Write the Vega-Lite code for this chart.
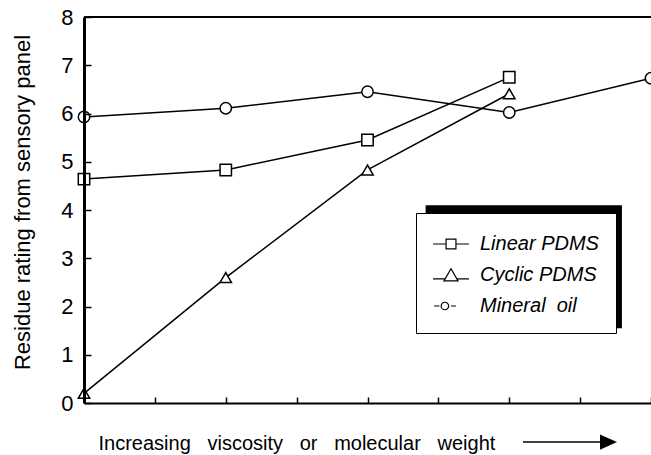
{
  "$schema": "https://vega.github.io/schema/vega-lite/v6.json",
  "width": 567,
  "height": 386,
  "autosize": {"type": "none"},
  "padding": {"left": 84, "top": 17, "right": 0, "bottom": 52},
  "background": "white",
  "config": {"view": {"stroke": null}, "font": "Liberation Sans"},
  "data": {
    "values": [
      {"series": "Linear PDMS", "x": 0, "y": 4.64},
      {"series": "Linear PDMS", "x": 1, "y": 4.83},
      {"series": "Linear PDMS", "x": 2, "y": 5.45},
      {"series": "Linear PDMS", "x": 3, "y": 6.75},
      {"series": "Cyclic PDMS", "x": 0, "y": 0.2},
      {"series": "Cyclic PDMS", "x": 1, "y": 2.6},
      {"series": "Cyclic PDMS", "x": 2, "y": 4.83},
      {"series": "Cyclic PDMS", "x": 3, "y": 6.41},
      {"series": "Mineral oil", "x": 0, "y": 5.93},
      {"series": "Mineral oil", "x": 1, "y": 6.11},
      {"series": "Mineral oil", "x": 2, "y": 6.45},
      {"series": "Mineral oil", "x": 3, "y": 6.02},
      {"series": "Mineral oil", "x": 4, "y": 6.73}
    ]
  },
  "resolve": {"scale": {"shape": "independent"}, "legend": {"shape": "independent"}},
  "layer": [
    {
      "data": {"values": [{}]},
      "mark": {"type": "rect", "color": "black"},
      "encoding": {
        "x": {"datum": 2.41, "type": "quantitative"},
        "x2": {"datum": 3.795},
        "y": {"datum": 1.55, "type": "quantitative"},
        "y2": {"datum": 4.1}
      }
    },
    {
      "mark": {"type": "line", "color": "black", "strokeWidth": 1.5},
      "encoding": {
        "x": {
          "field": "x", "type": "quantitative",
          "scale": {"domain": [0, 4], "nice": false, "zero": false},
          "axis": {
            "title": "Increasing\u00a0\u00a0\u00a0viscosity\u00a0\u00a0\u00a0or\u00a0\u00a0\u00a0molecular\u00a0\u00a0\u00a0weight",
            "values": [0.5, 1, 1.5, 2, 2.5, 3, 3.5, 4],
            "labels": false,
            "grid": false,
            "tickSize": -6,
            "tickWidth": 1.5,
            "tickColor": "black",
            "domainColor": "black",
            "domainWidth": 2,
            "titleFont": "Liberation Sans",
            "titleFontSize": 20,
            "titleFontWeight": "normal",
            "titleColor": "black",
            "titleX": 14,
            "titleY": 40,
            "titleAlign": "left",
            "titleAnchor": "start",
            "titleBaseline": "middle",
            "zindex": 1
          }
        },
        "y": {
          "field": "y", "type": "quantitative",
          "scale": {"domain": [0, 8], "nice": false},
          "axis": {
            "title": "Residue rating from sensory panel",
            "values": [0, 0.5, 1, 1.5, 2, 2.5, 3, 3.5, 4, 4.5, 5, 5.5, 6, 6.5, 7, 7.5, 8],
            "labelExpr": "datum.value % 1 === 0 ? datum.label : ''",
            "grid": false,
            "tickSize": -7,
            "tickWidth": 1.5,
            "tickColor": "black",
            "domainColor": "black",
            "domainWidth": 3,
            "labelFont": "Liberation Sans",
            "labelFontSize": 22,
            "labelColor": "black",
            "labelPadding": 18,
            "labelOverlap": false,
            "titleFont": "Liberation Sans",
            "titleFontSize": 22,
            "titleFontWeight": "normal",
            "titleColor": "black",
            "titleX": -62,
            "titleY": 185,
            "titleAngle": -90,
            "titleAlign": "center",
            "titleBaseline": "middle",
            "zindex": 1
          }
        },
        "detail": {"field": "series"}
      }
    },
    {
      "mark": {"type": "point", "filled": true, "fill": "white", "stroke": "black", "strokeWidth": 1.5, "size": 130, "opacity": 1},
      "encoding": {
        "x": {"field": "x", "type": "quantitative"},
        "y": {"field": "y", "type": "quantitative"},
        "shape": {
          "field": "series", "type": "nominal",
          "scale": {"domain": ["Linear PDMS", "Cyclic PDMS", "Mineral oil"], "range": ["square", "triangle-up", "circle"]},
          "legend": null
        }
      }
    },
    {
      "mark": {"type": "point", "filled": false, "stroke": "black", "strokeWidth": 1.2, "opacity": 0},
      "encoding": {
        "x": {"field": "x", "type": "quantitative"},
        "y": {"field": "y", "type": "quantitative"},
        "shape": {
          "field": "series", "type": "nominal",
          "scale": {
            "domain": ["Linear PDMS", "Cyclic PDMS", "Mineral oil"],
            "range": [
              "M-1.38,0H-0.38M0.38,0H1.38M-0.38,-0.38H0.38V0.38H-0.38Z",
              "M-1.38,0.3H-0.48M0.48,0.3H1.38M0,-0.48L0.54,0.45H-0.54Z",
              "M-1.31,0H-0.89M-0.18,0A0.29,0.29 0 1,1 -0.76,0A0.29,0.29 0 1,1 -0.18,0M0,0H0.38"
            ]
          },
          "legend": {
            "orient": "none",
            "legendX": 332,
            "legendY": 196,
            "title": null,
            "padding": 17,
            "fillColor": "white",
            "strokeColor": "black",
            "symbolSize": 676,
            "symbolOffset": 4,
            "labelOffset": 15,
            "rowPadding": 7,
            "labelFont": "Liberation Sans",
            "labelFontSize": 20,
            "labelFontStyle": "italic",
            "labelColor": "black",
            "labelLimit": 300,
            "labelExpr": "datum.label === 'Mineral oil' ? 'Mineral\u00a0\u00a0oil' : datum.label",
            "symbolOpacity": 1,
            "symbolStrokeWidth": 1.2,
            "symbolStrokeColor": "black",
            "symbolFillColor": "transparent",
            "encode": {
              "legend": {"update": {"strokeWidth": {"value": 1.5}}}
            }
          }
        }
      }
    },
    {
      "data": {"values": [{}]},
      "mark": {"type": "rule", "color": "black", "strokeWidth": 2},
      "encoding": {"y": {"datum": 8, "type": "quantitative"}}
    },
    {
      "data": {"values": [{}]},
      "mark": {"type": "rule", "color": "black", "strokeWidth": 1.5},
      "encoding": {
        "x": {"datum": 3.097, "type": "quantitative"},
        "x2": {"datum": 3.68},
        "y": {"datum": -0.81, "type": "quantitative"}
      }
    },
    {
      "data": {"values": [{}]},
      "mark": {"type": "point", "filled": true, "color": "black", "opacity": 1, "size": 289, "shape": "M-1,-0.9L1,0L-1,0.9Z"},
      "encoding": {
        "x": {"datum": 3.7, "type": "quantitative"},
        "y": {"datum": -0.81, "type": "quantitative"}
      }
    }
  ]
}
